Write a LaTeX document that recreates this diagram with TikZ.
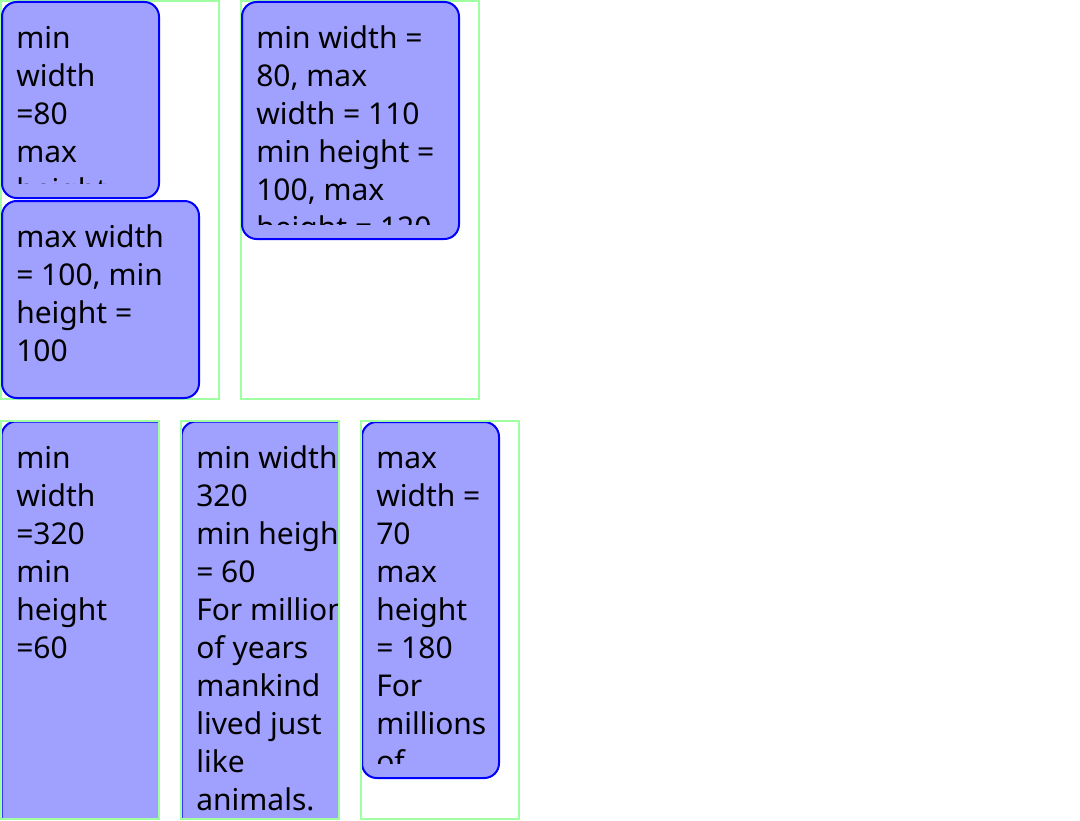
\documentclass[tikz,border=0pt]{standalone}
\usepackage{fontspec}
\setmainfont{Noto Sans}
\definecolor{framegreen}{RGB}{160,255,160}
\definecolor{cardblue}{RGB}{160,160,255}
% puts the first baseline 31px below the top of the text box
\newcommand\firstline{\rule{0pt}{23.25pt}}
\begin{document}
\begin{tikzpicture}[x=0.75pt,y=-0.75pt,
    frame/.style={draw=framegreen,line width=1.5pt},
    card/.style={fill=cardblue,draw=blue,line width=1.5pt,rounded corners=11pt},
    cardtext/.style={anchor=north west,inner sep=0pt,align=left,
      font=\fontsize{22.5}{28.5}\selectfont}]
    \useasboundingbox (0,0) rectangle (1080,820);
    % top row
    \draw[frame] (1,1) rectangle (219,399);
    \draw[frame] (241,1) rectangle (479,399);
    \draw[card] (2,2) rectangle (159,198);
    \draw[card] (2,201) rectangle (199,398);
    \draw[card] (242,2) rectangle (459,239);
    \begin{scope}
        \clip (16,17) rectangle (144,183);
        \node[cardtext] (minw80) at (16,17) {\firstline min\\width\\=80\\max\\height};
    \end{scope}
    \node[cardtext] (maxw100) at (16,216) {\firstline max width\\= 100, min\\height =\\100};
    \begin{scope}
        \clip (256,17) rectangle (444,224);
        \node[cardtext] (minmax) at (256,17) {\firstline min width =\\80, max\\width = 110\\min height =\\100, max\\height = 120};
    \end{scope}
    % bottom row
    \begin{scope}
        \clip (1,421) rectangle (159,819);
        \draw[card] (1.5,421.5) rectangle (322,900);
        \node[cardtext] (minw320) at (16,437) {\firstline min\\width\\=320\\min\\height\\=60};
    \end{scope}
    \begin{scope}
        \clip (181,421) rectangle (339,819);
        \draw[card] (181.5,421.5) rectangle (502,900);
        \node[cardtext] (minw320b) at (196,437) {\firstline min width\\320\\min height\\= 60\\For millions\\of years\\mankind\\lived just\\like\\animals.};
    \end{scope}
    \draw[card] (362,422) rectangle (499,778);
    \begin{scope}
        \clip (376,437) rectangle (484,763);
        \node[cardtext] (maxw70) at (376,437) {\firstline max\\width =\\70\\max\\height\\= 180\\For\\millions\\of};
    \end{scope}
    \draw[frame] (1,421) rectangle (159,819);
    \draw[frame] (181,421) rectangle (339,819);
    \draw[frame] (361,421) rectangle (519,819);
\end{tikzpicture}
\end{document}
